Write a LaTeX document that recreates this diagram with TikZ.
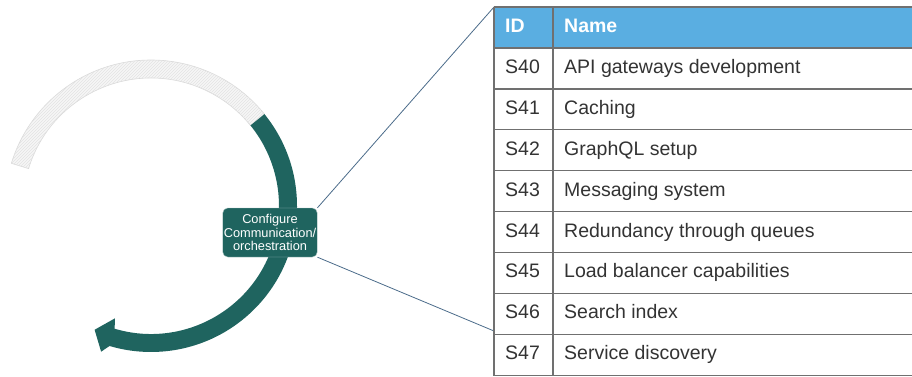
\documentclass[tikz,border=0pt]{standalone}
\usepackage{fontspec}
\setmainfont{Liberation Sans}
\usepackage{xcolor}
\usepackage{tikz}
\usetikzlibrary{calc,positioning,patterns}

\definecolor{ringteal}{HTML}{1F645F}
\definecolor{ringgrey}{HTML}{F6F6F6}
\definecolor{headblue}{HTML}{5AAEE1}
\definecolor{gridgrey}{HTML}{707070}
\definecolor{textgrey}{HTML}{333333}
\definecolor{linkblue}{HTML}{4B6B8A}

\begin{document}
\begin{tikzpicture}[x=1pt,y=1pt,
  cell/.style={anchor=base west,inner sep=0pt,text=textgrey,font=\fontsize{19.5}{20}\selectfont},
  headcell/.style={cell,text=white,font=\fontsize{19.5}{20}\selectfont\bfseries},
  rule/.style={gridgrey,line width=1.3pt},
  link/.style={linkblue,line width=0.8pt}]
  \useasboundingbox (0,0) rectangle (912,376);
  \coordinate (C) at (151,170);
  % pale part of the ring
  \filldraw[fill=ringgrey,draw=gray!30,line width=0.6pt]
    ([shift={(39:146)}]C) arc[start angle=39,end angle=163,radius=146]
    -- ([shift={(163:128)}]C) arc[start angle=163,end angle=39,radius=128] -- cycle;
  \fill[pattern=north east lines,pattern color=gray!22]
    ([shift={(39:146)}]C) arc[start angle=39,end angle=163,radius=146]
    -- ([shift={(163:128)}]C) arc[start angle=163,end angle=39,radius=128] -- cycle;
  % dark part with its arrow head
  \fill[ringteal]
    ([shift={(39:146)}]C) arc[start angle=39,end angle=-106.5,radius=146]
    -- ([shift={(-108.9:154)}]C) -- ([shift={(-114.5:136)}]C) -- ([shift={(-107.8:118)}]C)
    -- ([shift={(-106.5:128)}]C) arc[start angle=-106.5,end angle=39,radius=128] -- cycle;
  \node [fill=ringteal,draw=white!60!ringteal,rounded corners=5pt,minimum width=94pt,
    minimum height=49pt,inner sep=1pt,align=center,text=white,
    font=\fontsize{12.8}{13.8}\selectfont] (conf) at (270,143.5)
    {Configure\\Communication/\\orchestration};
  % table
  \coordinate (T) at (494,369);
  \coordinate (B) at (494,45);
  \draw[link] (conf.north east) -- (T);
  \draw[link] (conf.south east) -- (B);
  \fill[headblue] (T) rectangle (920,328);
  \node[headcell] (idhead) at (505,343.5) {ID};
  \node[headcell] (namehead) at (564,343.5) {Name};
  \draw[rule] (T) -- (920,369);
  \draw[rule] (494,328) -- (920,328);
  \foreach \id/\name [count=\i] in {S40/API gateways development,S41/Caching,
      S42/GraphQL setup,S43/Messaging system,S44/Redundancy through queues,
      S45/Load balancer capabilities,S46/Search index,S47/Service discovery} {
    \pgfmathsetmacro\yb{328-40.9*\i}
    \node[cell] (id\i) at (505,\yb+15.5) {\id};
    \node[cell] (name\i) at (564,\yb+15.5) {\name};
    \draw[rule] (494,\yb) -- (920,\yb);
  }
  \draw[rule] (T) -- (494,0);
  \draw[rule] (553,369) -- (553,0);
\end{tikzpicture}
\end{document}
